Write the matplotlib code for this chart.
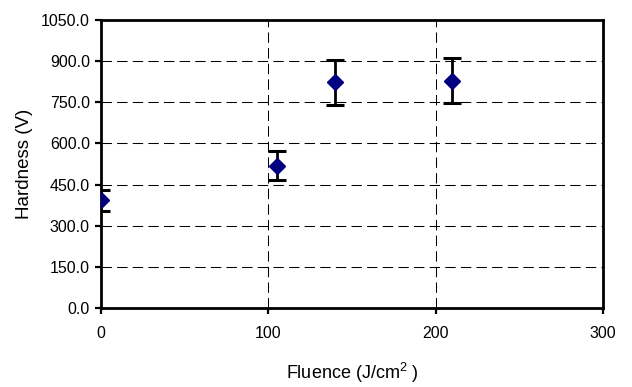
import numpy as np
import matplotlib
matplotlib.use('Agg')
import matplotlib.pyplot as plt

plt.rcParams['font.family'] = ['Liberation Sans', 'DejaVu Sans']
plt.rcParams['mathtext.fontset'] = 'custom'
plt.rcParams['mathtext.rm'] = 'Liberation Sans'
plt.rcParams['mathtext.it'] = 'Liberation Sans'

# data
fluence = [0, 105, 140, 210]
hardness = [393, 519, 823, 829]
err = [39, 52, 82, 83]

y_ticks = [0, 150, 300, 450, 600, 750, 900, 1050]
x_ticks = [0, 100, 200, 300]

fig = plt.figure(figsize=(6.32, 3.87), dpi=100)
ax = fig.add_axes([0.1598, 0.2041, 0.7943, 0.7442])

ax.errorbar(fluence, hardness, yerr=err, fmt='D', color='#000080', ms=7.8,
            ecolor='black', elinewidth=2, capsize=6.3, capthick=2.2, zorder=3)

ax.set_xlim(0, 300)
ax.set_ylim(0, 1050)
ax.set_xticks(x_ticks)
ax.set_yticks(y_ticks)
ax.set_yticklabels(['%.1f' % v for v in y_ticks])

ax.grid(True, color='black', linewidth=0.75, linestyle=(0, (10, 5)))
ax.set_axisbelow(True)

for s in ax.spines.values():
    s.set_linewidth(2)
ax.tick_params(axis='both', direction='out', length=4, width=1.6, labelsize=11.5)
ax.tick_params(axis='x', pad=9)
ax.tick_params(axis='y', pad=4)

ax.set_xlabel('Fluence (J/cm$^2$ )', fontsize=13, labelpad=14)
ax.set_ylabel('Hardness (V)', fontsize=13.5, labelpad=6)

fig.savefig('out.png', dpi=100)
